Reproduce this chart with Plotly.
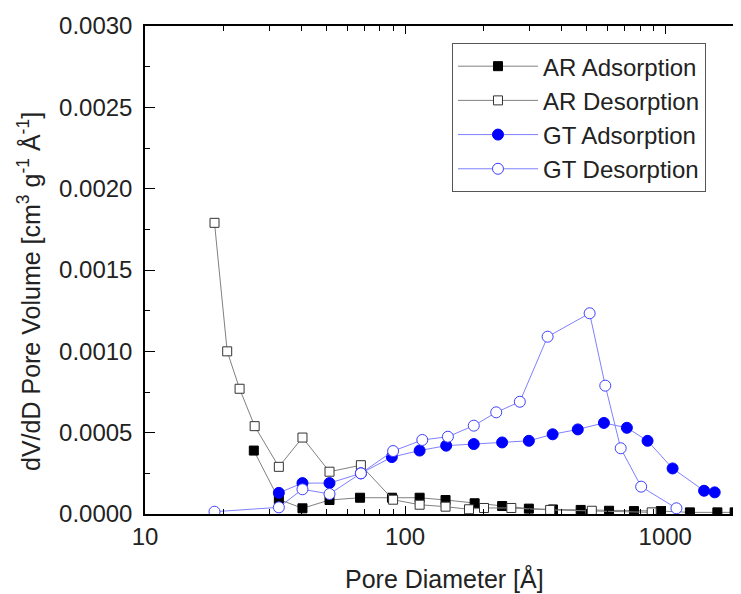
import plotly.graph_objects as go

# ---- data ----
ar_ads_d = [26.2, 32.7, 40.3, 51.2, 67.1, 89.0, 113.7, 143, 185, 236, 299, 370, 473, 608, 758, 962, 1244, 1586, 1848]
ar_ads_v = [0.00039, 0.00009, 0.000035, 0.000086, 0.0001, 0.0001, 0.0001, 0.000086, 0.000066, 0.000049,
            0.000033, 0.000028, 0.000025, 0.00002, 0.000018, 0.000018, 0.00001, 0.00001, 0.00001]

ar_des_d = [18.5, 20.7, 23.1, 26.4, 32.7, 40.3, 51.2, 67.6, 89.9, 113.7, 143, 176, 201, 256, 361, 522, 887]
ar_des_v = [0.00179, 0.001, 0.00077, 0.00054, 0.00029, 0.00047, 0.00026, 0.0003, 0.000088, 0.000057,
            0.000045, 0.000029, 0.000037, 0.000037, 0.000025, 0.00002, 0.00001]

gt_ads_d = [32.7, 40.3, 51.2, 67.6, 88.9, 113.7, 143.8, 183.6, 236, 299, 369, 461, 581, 712, 855, 1067, 1410, 1549]
gt_ads_v = [0.00013, 0.00019, 0.00019, 0.00025, 0.00035, 0.00039, 0.00042, 0.00043, 0.00044, 0.00045,
            0.00049, 0.00052, 0.00056, 0.00053, 0.00045, 0.00028, 0.000143, 0.000133]

gt_des_d = [18.5, 32.7, 40.3, 51.2, 67.6, 89.9, 116.4, 146, 183.6, 224, 276, 353, 512, 588, 674, 808, 1104]
gt_des_v = [0.000014, 0.000041, 0.000152, 0.000123, 0.00025, 0.000387, 0.000455, 0.000475, 0.000543,
            0.000625, 0.00069, 0.00109, 0.001234, 0.000789, 0.000404, 0.000168, 0.000035]

series_names = ["AR Adsorption", "AR Desorption", "GT Adsorption", "GT Desorption"]
x_tick_vals = [10, 100, 1000]
x_tick_text = ["10", "100", "1000"]
x_title = "Pore Diameter [Å]"
y_title = "dV/dD Pore Volume [cm<sup>3</sup> g<sup>-1</sup> Å<sup>-1</sup>]"

FONT = "Liberation Sans, Arial, sans-serif"
TXT = "#222222"

fig = go.Figure()
fig.add_trace(go.Scatter(x=ar_ads_d, y=ar_ads_v, name=series_names[0], mode="lines+markers",
                         line=dict(color="#808080", width=1),
                         marker=dict(symbol="square", size=9, color="black", line=dict(color="black", width=1))))
fig.add_trace(go.Scatter(x=ar_des_d, y=ar_des_v, name=series_names[1], mode="lines+markers",
                         line=dict(color="#808080", width=1),
                         marker=dict(symbol="square", size=9, color="white", line=dict(color="#333333", width=1))))
fig.add_trace(go.Scatter(x=gt_ads_d, y=gt_ads_v, name=series_names[2], mode="lines+markers",
                         line=dict(color="#8080ff", width=1),
                         marker=dict(symbol="circle", size=11, color="#0000ff", line=dict(color="#0000ff", width=1))))
fig.add_trace(go.Scatter(x=gt_des_d, y=gt_des_v, name=series_names[3], mode="lines+markers",
                         line=dict(color="#8080ff", width=1),
                         marker=dict(symbol="circle", size=11, color="white", line=dict(color="#4040ff", width=1))))

fig.update_layout(
    width=741, height=594,
    margin=dict(l=137, r=3, t=18, b=88),
    paper_bgcolor="white", plot_bgcolor="white",
    font=dict(family=FONT, size=24, color=TXT),
    showlegend=True,
    legend=dict(x=0.5125, y=0.965, xanchor="left", yanchor="top",
                bgcolor="white", bordercolor="#555555", borderwidth=1,
                font=dict(size=24, color=TXT), itemwidth=80,
                tracegroupgap=0),
    xaxis=dict(type="log", range=[1, 3.3027],
               tickvals=x_tick_vals, ticktext=x_tick_text,
               ticks="inside", ticklen=8, tickwidth=1.2, tickcolor="black",
               showline=True, linecolor="black", linewidth=1.5, mirror="ticks",
               showgrid=False, zeroline=False,
               minor=dict(tickvals=[20, 30, 40, 50, 60, 70, 80, 90, 200, 300, 400, 500, 600, 700, 800, 900],
                          ticks="inside", ticklen=5, tickwidth=1.2, tickcolor="black", showgrid=False),
               tickfont=dict(size=24)),
    yaxis=dict(range=[0, 0.003], dtick=0.0005, tick0=0, tickformat=".4f",
               ticks="inside", ticklen=10, tickwidth=1.2, tickcolor="black",
               showline=True, linecolor="black", linewidth=1.5, mirror="ticks",
               showgrid=False, zeroline=False, ticklabelstandoff=6,
               minor=dict(dtick=0.00025, ticks="inside", ticklen=5, tickwidth=1.2, tickcolor="black", showgrid=False),
               tickfont=dict(size=24)),
)

fig.add_annotation(text=x_title, xref="paper", yref="paper", x=0.5, y=0, xanchor="center", yanchor="top",
                   yshift=-48, showarrow=False, font=dict(size=25, family=FONT, color=TXT))
fig.add_annotation(text=y_title, xref="paper", yref="paper", x=0, y=0.455, xanchor="center", yanchor="middle",
                   xshift=-116, textangle=-90, showarrow=False, font=dict(size=25, family=FONT, color=TXT))

fig.write_html("out.html")
